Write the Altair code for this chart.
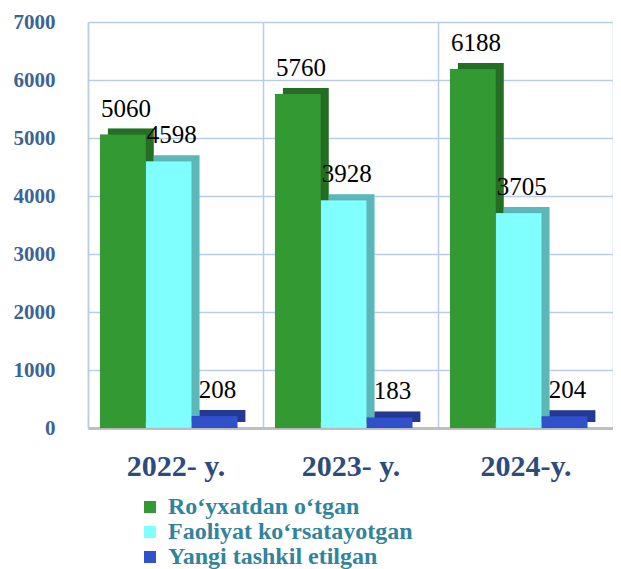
import altair as alt
import pandas as pd

categories = ["2022- y.", "2023- y.", "2024-y."]
series_names = ["Roʻyxatdan oʻtgan", "Faoliyat koʻrsatayotgan", "Yangi tashkil etilgan"]
registered = [5060, 5760, 6188]
active = [4598, 3928, 3705]
new_created = [208, 183, 204]
y_ticks = [0, 1000, 2000, 3000, 4000, 5000, 6000, 7000]
colors = ["#339933", "#80FFFF", "#3150CC"]

rows = []
for i, c in enumerate(categories):
    for s, vals in zip(series_names, [registered, active, new_created]):
        rows.append({"cat": c, "series": s, "value": vals[i]})
df = pd.DataFrame(rows)

SERIF = "Liberation Serif"
color_scale = alt.Scale(domain=series_names, range=colors)
legend = alt.Legend(title=None, orient="none", legendX=50, legendY=473,
                    symbolType="square", symbolSize=144, symbolStrokeWidth=0,
                    labelFont=SERIF, labelFontWeight="bold",
                    labelFontSize=24, labelColor="#31849B", rowPadding=1,
                    padding=0, labelOffset=6, labelLimit=450)

x_enc = alt.X("cat:N", sort=categories,
              scale=alt.Scale(paddingInner=0, paddingOuter=0),
              axis=alt.Axis(title=None, labelAngle=0, labelFont=SERIF,
                            labelFontWeight="bold", labelFontSize=30, labelColor="#2C4C7C",
                            labelPadding=23, ticks=False, domainColor="#BFBFBF", domainWidth=3,
                            grid=True, tickBand="extent", gridColor="#B9CDE5", gridWidth=1.5))
y_enc = alt.Y("value:Q", scale=alt.Scale(domain=[0, 7000]),
              axis=alt.Axis(title=None, values=y_ticks, format="d", labelFont=SERIF,
                            labelFontWeight="bold", labelFontSize=21, labelColor="#3A6494",
                            labelPadding=33, ticks=False, domainColor="#B9CDE5", domainWidth=1.5,
                            gridColor="#B9CDE5", gridWidth=1.5))

def off(align):
    return alt.XOffset("series:N", sort=series_names,
                       scale=alt.Scale(paddingInner=0, paddingOuter=0.41, align=align))

color_enc = alt.Color("series:N", sort=series_names, scale=color_scale, legend=legend)

# depth (3D look): same bars pushed back (right and up), then darkened
back = alt.Chart(df).mark_bar(yOffset=-6, y2Offset=-6).encode(
    x=x_enc, y=y_enc, xOffset=off(0.53), color=color_enc)
back_shade = alt.Chart(df).mark_bar(yOffset=-6, y2Offset=-6, color="black", opacity=0.28).encode(
    x=x_enc, y=y_enc, xOffset=off(0.53))
back_group = alt.layer(back, back_shade)

bars = alt.Chart(df).mark_bar(stroke="#444444", strokeWidth=0.2, strokeOpacity=0.5).encode(
    x=x_enc, y=y_enc, xOffset=off(0.32), color=color_enc)
labels = alt.Chart(df).mark_text(baseline="bottom", dy=-13, dx=3, font=SERIF,
                                 fontSize=25, color="black").encode(
    x=x_enc, y=y_enc, xOffset=off(0.32), text="value:Q")
front_group = alt.layer(bars, labels)

chart = alt.layer(back_group, front_group).resolve_scale(
    xOffset="independent"
).properties(
    width=525, height=406,
    autosize=alt.AutoSizeParams(type="none"),
    padding={"left": 80, "top": 14, "right": 0, "bottom": 141},
).configure_view(stroke=None)

chart.save("out.html", embed_options={"renderer": "svg", "actions": False})
